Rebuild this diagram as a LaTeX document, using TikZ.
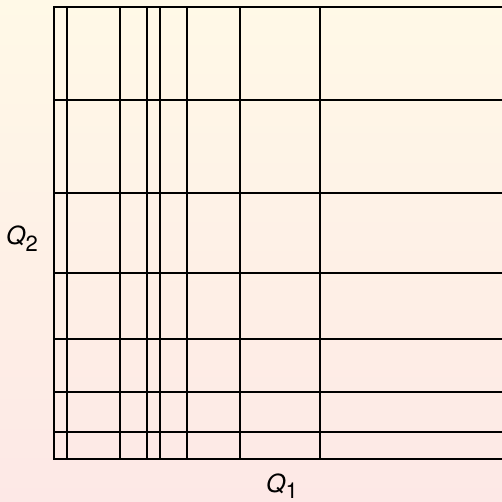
\documentclass[tikz,border=0pt]{standalone}
\usepackage{fontspec}
\setmainfont{TeX Gyre Heros}
\definecolor{bgtop}{RGB}{255,249,231}
\definecolor{bgbot}{RGB}{253,232,230}
\begin{document}
\begin{tikzpicture}[x=1pt,y=-1pt,
  gridline/.style={line width=1.8pt,black},
  axisline/.style={line width=2pt,black,line cap=rect},
  axlabel/.style={inner sep=0pt,anchor=base west,font=\fontsize{25}{27}\selectfont}]
\useasboundingbox (0,0) rectangle (502,502);
\shade[top color=bgtop,bottom color=bgbot] (0,0) rectangle (502,502);
% vertical grid lines
\foreach \x in {67.3,120.3,147,160.3,187,239.7,319.7}
  \draw[gridline] (\x,6.7) -- (\x,458.7);
% horizontal grid lines
\foreach \y in {6.7,99.7,193,272.7,339,392.3,432.3}
  \draw[gridline] (54,\y) -- (502,\y);
% axes
\draw[axisline] (54,6.7) -- (54,458.7) -- (502,458.7);
% labels
\node[axlabel] (q2) at (6,244) {\itshape Q\raisebox{-7pt}{\upshape\fontsize{22}{24}\selectfont 2}};
\node[axlabel] (q1) at (266,492.5) {\itshape Q\raisebox{-6pt}{\upshape\fontsize{22}{24}\selectfont 1}};
\end{tikzpicture}
\end{document}
